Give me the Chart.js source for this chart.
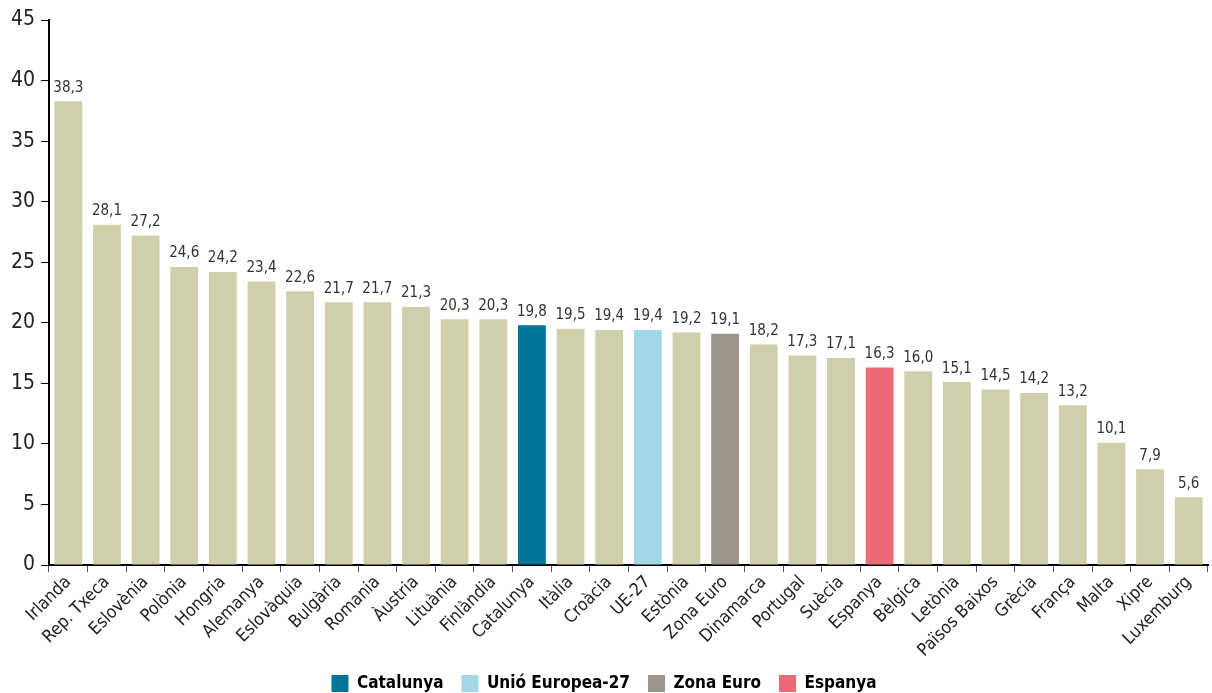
<!DOCTYPE html>
<html>
<head>
<meta charset="utf-8">
<script src="https://cdn.jsdelivr.net/npm/chart.js@4"></script>
<style>
  html, body { margin: 0; padding: 0; background: #fff; }
  #wrap { width: 1212px; height: 693px; position: relative; }
</style>
</head>
<body>
<div id="wrap"><canvas id="chart"></canvas></div>
<script>
const countries = ['Irlanda', 'Rep. Txeca', 'Eslovènia', 'Polònia', 'Hongria', 'Alemanya', 'Eslovàquia',
  'Bulgària', 'Romania', 'Àustria', 'Lituània', 'Finlàndia', 'Catalunya', 'Itàlia', 'Croàcia', 'UE-27',
  'Estònia', 'Zona Euro', 'Dinamarca', 'Portugal', 'Suècia', 'Espanya', 'Bèlgica', 'Letònia',
  'Països Baixos', 'Grècia', 'França', 'Malta', 'Xipre', 'Luxemburg'];
const values = [38.3, 28.1, 27.2, 24.6, 24.2, 23.4, 22.6, 21.7, 21.7, 21.3, 20.3, 20.3, 19.8, 19.5, 19.4,
  19.4, 19.2, 19.1, 18.2, 17.3, 17.1, 16.3, 16.0, 15.1, 14.5, 14.2, 13.2, 10.1, 7.9, 5.6];
const highlighted = ['Catalunya', 'UE-27', 'Zona Euro', 'Espanya'];
const legendNames = ['Catalunya', 'Unió Europea-27', 'Zona Euro', 'Espanya'];

const baseColor = '#cfcfab';
const highlightColors = ['#00759a', '#a1d7e6', '#9e958a', '#ec6a77'];
const FONT = '"DejaVu Sans Condensed", "Liberation Sans Narrow", "Liberation Sans", sans-serif';

const barColors = countries.map(c => {
  const i = highlighted.indexOf(c);
  return i >= 0 ? highlightColors[i] : baseColor;
});

// value labels above each bar, with a decimal comma
const valueLabels = {
  id: 'valueLabels',
  afterDatasetsDraw(chart) {
    const ctx = chart.ctx;
    const meta = chart.getDatasetMeta(0);
    ctx.save();
    ctx.font = 'normal condensed 15px ' + FONT;
    ctx.fillStyle = '#333';
    ctx.textAlign = 'center';
    ctx.textBaseline = 'bottom';
    meta.data.forEach((bar, i) => {
      ctx.fillText(values[i].toFixed(1).replace('.', ','), bar.x, bar.y - 6);
    });
    ctx.restore();
  }
};

new Chart(document.getElementById('chart'), {
  type: 'bar',
  data: {
    labels: countries,
    datasets: [{
      data: values,
      backgroundColor: barColors,
      barPercentage: 0.72,
      categoryPercentage: 1
    }]
  },
  options: {
    responsive: true,
    maintainAspectRatio: false,
    animation: false,
    layout: { padding: { top: 20, right: 4, left: 0, bottom: -9 } },
    scales: {
      x: {
        afterFit: s => { s.height = 92; },
        grid: { drawOnChartArea: false, drawTicks: true, tickLength: 7, color: '#555', offset: true },
        border: { color: '#000', width: 2 },
        ticks: {
          color: '#222',
          font: { family: FONT, size: 17.5, style: 'normal', weight: 'condensed' },
          minRotation: 45,
          maxRotation: 45,
          autoSkip: false,
          padding: 0
        }
      },
      y: {
        min: 0,
        max: 45,
        afterFit: s => { s.width = 49; },
        grid: { drawOnChartArea: false, drawTicks: true, tickLength: 8, color: '#000' },
        border: { color: '#000', width: 2 },
        ticks: {
          stepSize: 5,
          color: '#222',
          font: { family: FONT, size: 21, style: 'normal', weight: 'condensed' },
          padding: 6
        }
      }
    },
    plugins: {
      tooltip: { enabled: false },
      legend: {
        position: 'bottom',
        labels: {
          color: '#111',
          font: { family: FONT, size: 17, style: 'normal', weight: 'bold condensed' },
          boxWidth: 17,
          boxHeight: 17,
          padding: 18,
          generateLabels: () => legendNames.map((n, i) => ({
            text: n,
            fillStyle: highlightColors[i],
            strokeStyle: highlightColors[i],
            lineWidth: 0,
            datasetIndex: 0
          }))
        }
      }
    }
  },
  plugins: [valueLabels]
});
</script>
</body>
</html>
